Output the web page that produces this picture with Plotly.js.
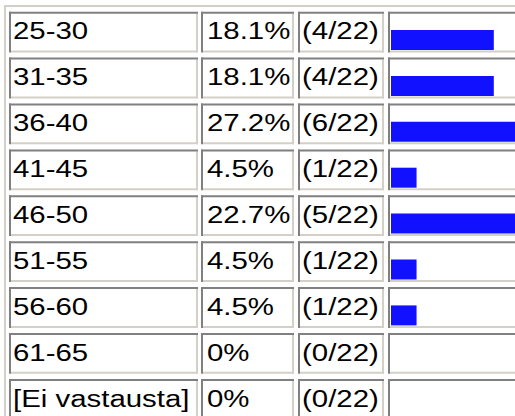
<!DOCTYPE html>
<html>
<head>
<meta charset="utf-8">
<script src="https://cdn.plot.ly/plotly-3.0.1.min.js"></script>
<style>html,body{margin:0;padding:0;background:#fff;overflow:hidden}</style>
</head>
<body>
<div id="chart" style="width:515px;height:416px"></div>
<script>
// ---- data ----
const categories = ['25-30', '31-35', '36-40', '41-45', '46-50', '51-55', '56-60', '61-65', '[Ei vastausta]'];
const percentValues = [18.1, 18.1, 27.2, 4.5, 22.7, 4.5, 4.5, 0, 0];
const responseCounts = [4, 4, 6, 1, 5, 1, 1, 0, 0];
const totalResponses = 22;
const percentLabels = percentValues.map(v => v + '%');
const countLabels = responseCounts.map(c => '(' + c + '/' + totalResponses + ')');

// ---- layout constants ----
const W = 515, H = 416;
const ROW_TOP = 11.7, ROW_PITCH = 45.9, ROW_H = 40.8;
const BAR_CENTER = 28.3;              // bar centre offset inside a row
const COLS = [[9, 198], [201, 294], [298, 384], [388, 560]];
const TEXT_X = [11.8, 205.5, 301.3];
const PX_PER_PCT = 5.68;
const BAR_LEFT = 391;
const DARK = '#808080', LIGHT = '#d4d0c8';
const FONT = {family: 'Liberation Sans, Arial, sans-serif', size: 24.5, color: '#000'};
const TEXT_SHIFT = 9.2;
const STRETCH = 1.2;

// ---- cell borders (inset look) ----
const shapes = [];
function rect(x0, y0, x1, y1, c) {
  shapes.push({type: 'rect', xref: 'x', yref: 'y', x0, y0, x1, y1,
    fillcolor: c, line: {width: 0}, layer: 'below'});
}
// outer table border (top/left visible)
rect(4, 5, 6, H, LIGHT);
rect(4, 5, W, 7, LIGHT);
categories.forEach((c, i) => {
  const y0 = ROW_TOP + i * ROW_PITCH, y1 = y0 + ROW_H;
  COLS.forEach(([x0, x1]) => {
    rect(x1 - 2, y0 + 2, x1, y1, LIGHT);
    rect(x0 + 2, y1 - 2, x1, y1, LIGHT);
    rect(x0, y0, x1, y0 + 2, DARK);
    rect(x0, y0, x0 + 2, y1, DARK);
  });
});

// ---- text ----
const annotations = [];
[categories, percentLabels, countLabels].forEach((col, j) => {
  col.forEach((t, i) => {
    annotations.push({xref: 'x', yref: 'y2', x: TEXT_X[j], y: categories[i],
      text: t, showarrow: false, xanchor: 'left', yanchor: 'middle',
      yshift: TEXT_SHIFT, borderpad: 0, font: FONT});
  });
});

const barTrace = {
  type: 'bar', orientation: 'h',
  x: percentValues, y: categories,
  xaxis: 'x2', yaxis: 'y2',
  width: 20 / ROW_PITCH,
  marker: {color: '#1111ff', line: {width: 0}},
  hoverinfo: 'skip'
};

const y2Top = -BAR_CENTER / ROW_PITCH - ROW_TOP / ROW_PITCH;
const y2Bottom = (H - ROW_TOP - BAR_CENTER) / ROW_PITCH;

const layout = {
  width: W, height: H,
  margin: {l: 0, r: 0, t: 0, b: 0, pad: 0},
  paper_bgcolor: '#fff', plot_bgcolor: 'rgba(0,0,0,0)',
  showlegend: false,
  xaxis: {range: [0, W], visible: false, fixedrange: true, domain: [0, 1]},
  yaxis: {range: [H, 0], visible: false, fixedrange: true, domain: [0, 1]},
  xaxis2: {domain: [BAR_LEFT / W, 1], range: [0, (W - BAR_LEFT) / PX_PER_PCT],
    anchor: 'y2', visible: false, fixedrange: true},
  yaxis2: {type: 'category', categoryorder: 'array', categoryarray: categories,
    range: [y2Bottom, y2Top], anchor: 'x2', visible: false, fixedrange: true, domain: [0, 1]},
  shapes, annotations
};

Plotly.newPlot('chart', [barTrace], layout, {staticPlot: true, displayModeBar: false}).then(() => {
  document.querySelectorAll('#chart .annotation-text').forEach(el => {
    const bb = el.getBBox();
    el.setAttribute('transform', 'translate(' + (bb.x * (1 - STRETCH)) + ',0) scale(' + STRETCH + ',1)');
  });
});
</script>
</body>
</html>
